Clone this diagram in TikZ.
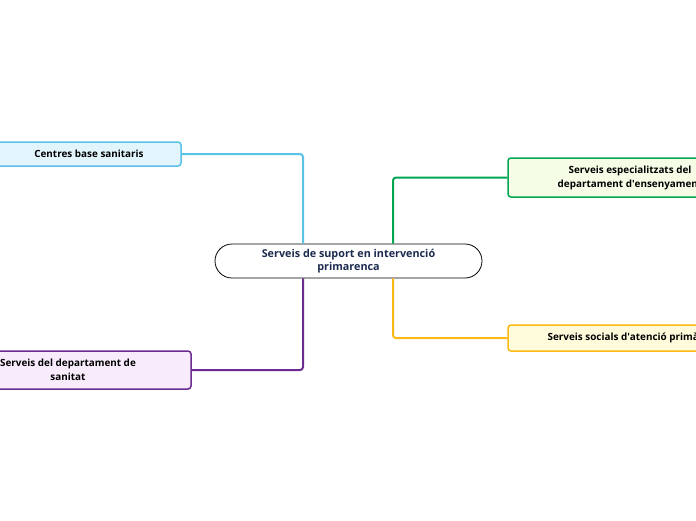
\documentclass[tikz,border=0pt]{standalone}
\usepackage{fontspec}
\setmainfont{Open Sans}
\definecolor{cblue}{HTML}{5BC2E7}
\definecolor{fblue}{HTML}{E2F5FD}
\definecolor{cgreen}{HTML}{00A651}
\definecolor{fgreen}{HTML}{F5FDE6}
\definecolor{cyellow}{HTML}{FDB913}
\definecolor{fyellow}{HTML}{FFFBDB}
\definecolor{cpurple}{HTML}{6A2C91}
\definecolor{fpurple}{HTML}{F7EBFC}
\definecolor{navy}{HTML}{1B2A4E}
\begin{document}
\begin{tikzpicture}[x=1pt,y=-1pt,
  topic/.style={draw, line width=1.5pt, rounded corners=3pt, align=center, font=\bfseries\fontsize{9.9}{14}\selectfont, inner sep=0pt, anchor=center},
  link/.style={line width=2pt, rounded corners=3pt}]
\useasboundingbox (0,0) rectangle (696,520);
\node[draw=black, line width=0.8pt, rounded corners=17pt, minimum width=267pt, minimum height=34pt, align=center, text=navy, font=\bfseries\fontsize{10.8}{12.5}\selectfont, inner sep=0pt] (c) at (348.5,261) {Serveis de suport en intervenció\\primarenca};
\node[topic, draw=cblue, fill=fblue, minimum width=184pt, minimum height=24pt] (a) at (89,154) {Centres base sanitaris};
\node[topic, draw=cpurple, fill=fpurple, minimum width=246pt, minimum height=38pt] (b) at (68,370) {Serveis del departament de\\sanitat};
\node[topic, draw=cgreen, fill=fgreen, minimum width=244pt, minimum height=39pt] (d) at (630,177.5) {Serveis especialitzats del\\departament d\textquotesingle ensenyament};
\node[topic, draw=cyellow, fill=fyellow, minimum width=244pt, minimum height=26pt] (e) at (630,338) {Serveis socials d\textquotesingle atenció primària};
\draw[link, cblue] (a.east) -| (c.north -| 303,0);
\draw[link, cpurple] (b.east) -| (c.south -| 303,0);
\draw[link, cgreen] (d.west) -| (c.north -| 393,0);
\draw[link, cyellow] (e.west) -| (c.south -| 393,0);
\end{tikzpicture}
\end{document}
